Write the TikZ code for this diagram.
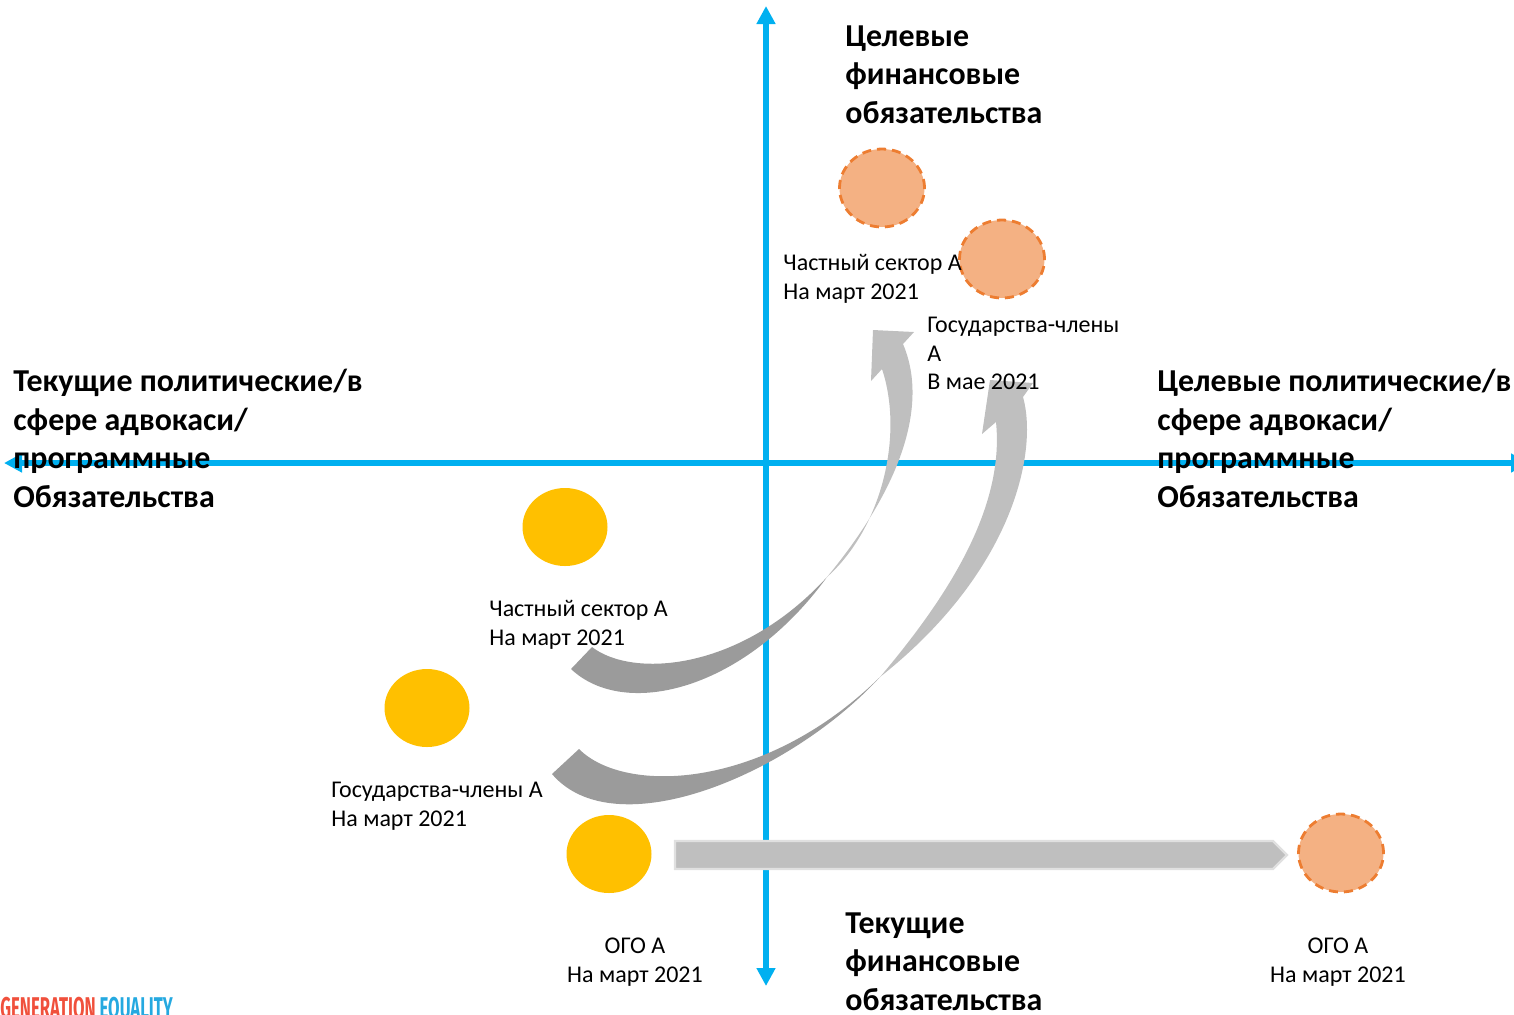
\documentclass[tikz,border=0pt]{standalone}
\usepackage{fontspec}
\setmainfont{Carlito}
\newfontfamily\logofont{Fira Sans}
\usetikzlibrary{shapes.geometric, arrows.meta, calc}
\definecolor{axisblue}{HTML}{00B0F0}
\definecolor{nowyellow}{HTML}{FFC000}
\definecolor{goalfill}{HTML}{F4B183}
\definecolor{goaldash}{HTML}{ED7D31}
\definecolor{taildark}{HTML}{9B9B9B}
\definecolor{headlight}{HTML}{BFBFBF}
\definecolor{logored}{HTML}{F0503C}
\definecolor{logoblue}{HTML}{25A9E0}
\tikzset{
    axisline/.style={axisblue,line width=3pt,{Triangle[length=9pt,width=9pt]}-{Triangle[length=9pt,width=9pt]}},
    nowdot/.style={ellipse,fill=nowyellow,inner sep=0pt,minimum width=42.5pt,minimum height=39pt},
    goaldot/.style={ellipse,fill=goalfill,draw=goaldash,line width=1.4pt,dash pattern=on 4.5pt off 3pt,inner sep=0pt,minimum width=42.5pt,minimum height=39pt},
    smalltext/.style={anchor=north west,inner sep=0pt,align=left,font=\fontsize{12}{14.25}\selectfont},
    bigtext/.style={anchor=north west,inner sep=0pt,align=left,font=\fontsize{15.95}{19.25}\selectfont\bfseries}
}
\begin{document}
\begin{tikzpicture}[x=0.5pt,y=-0.5pt]
    \useasboundingbox (0,0) rectangle (1514,1014);

    % Axes
    \coordinate (west) at (4,463);
    \coordinate (east) at (1529,463);
    \coordinate (north) at (766,6);
    \coordinate (south) at (766,986);
    \draw[axisline] (west) -- (east);
    \draw[axisline] (north) -- (south);

    % Circles
    \node[goaldot] (goalprivate) at (882,188) {};
    \node[goaldot] (goalstates) at (1002,259) {};
    \node[goaldot] (goalcso) at (1341,853) {};
    \node[nowdot] (nowprivate) at (565,527) {};
    \node[nowdot] (nowstates) at (427,708) {};
    \node[nowdot] (nowcso) at (609,854) {};

    % Upper curved arrow
    \coordinate (pinchA) at (827,577);
    \fill[taildark] (592,647) .. controls (632,678) and (740,672) .. (pinchA)
        .. controls (745,690) and (625,720) .. (571,669) -- cycle;
    \fill[headlight] (pinchA) .. controls (882,528) and (904,435) .. (882,369)
        -- (871,381) -- (873,330) -- (914,332) -- (903,344)
        .. controls (927,400) and (907,480) .. (pinchA) -- cycle;

    % Lower curved arrow
    \coordinate (pinchB) at (880,677);
    \fill[taildark] (579,749) .. controls (625,795) and (765,790) .. (pinchB)
        .. controls (790,775) and (615,848) .. (552,774) -- cycle;
    \fill[headlight] (pinchB) .. controls (945,600) and (1005,510) .. (996,422)
        -- (982,434) -- (990,380) -- (1033,383) -- (1023,397)
        .. controls (1038,450) and (1015,570) .. (pinchB) -- cycle;

    % Straight arrow
    \coordinate (barstart) at (675,855);
    \coordinate (barend) at (1273,855);
    \draw[fill=headlight,draw=black!12,line width=1.2pt]
        ($(barstart)+(0,-14)$) -- ($(barend)+(0,-14)$) -- ($(barend)+(14,0)$)
        -- ($(barend)+(0,14)$) -- ($(barstart)+(0,14)$) -- cycle;

    % Axis titles
    \node[bigtext] (titletop) at (845,25) {Целевые\\финансовые\\обязательства};
    \node[bigtext] (titlebottom) at (845,912) {Текущие\\финансовые\\обязательства};
    \node[bigtext] (titleleft) at (13,369) {Текущие политические/в\\сфере адвокаси/\\программные\\Обязательства};
    \node[bigtext] (titleright) at (1157,369) {Целевые политические/в\\сфере адвокаси/\\программные\\Обязательства};

    % Labels
    \node[smalltext] (labelgoalprivate) at (783,254) {Частный сектор А\\На март 2021};
    \node[smalltext] (labelgoalstates) at (927,317) {Государства-члены\\А\\В мае 2021};
    \node[smalltext] (labelnowprivate) at (489,600) {Частный сектор А\\На март 2021};
    \node[smalltext] (labelnowstates) at (331,782) {Государства-члены А\\На март 2021};
    \node[smalltext,align=center,anchor=north] (labelnowcso) at (635,938) {ОГО А\\На март 2021};
    \node[smalltext,align=center,anchor=north] (labelgoalcso) at (1338,938) {ОГО А\\На март 2021};

    % Logo
    \node[anchor=base west,inner sep=0pt,font=\fontsize{15}{15}\selectfont\logofont\bfseries] (logo) at (0,1018)
        {\scalebox{.557}[1]{\textcolor{logored}{GENERATION} \textcolor{logoblue}{EQUALITY}}};
\end{tikzpicture}
\end{document}
